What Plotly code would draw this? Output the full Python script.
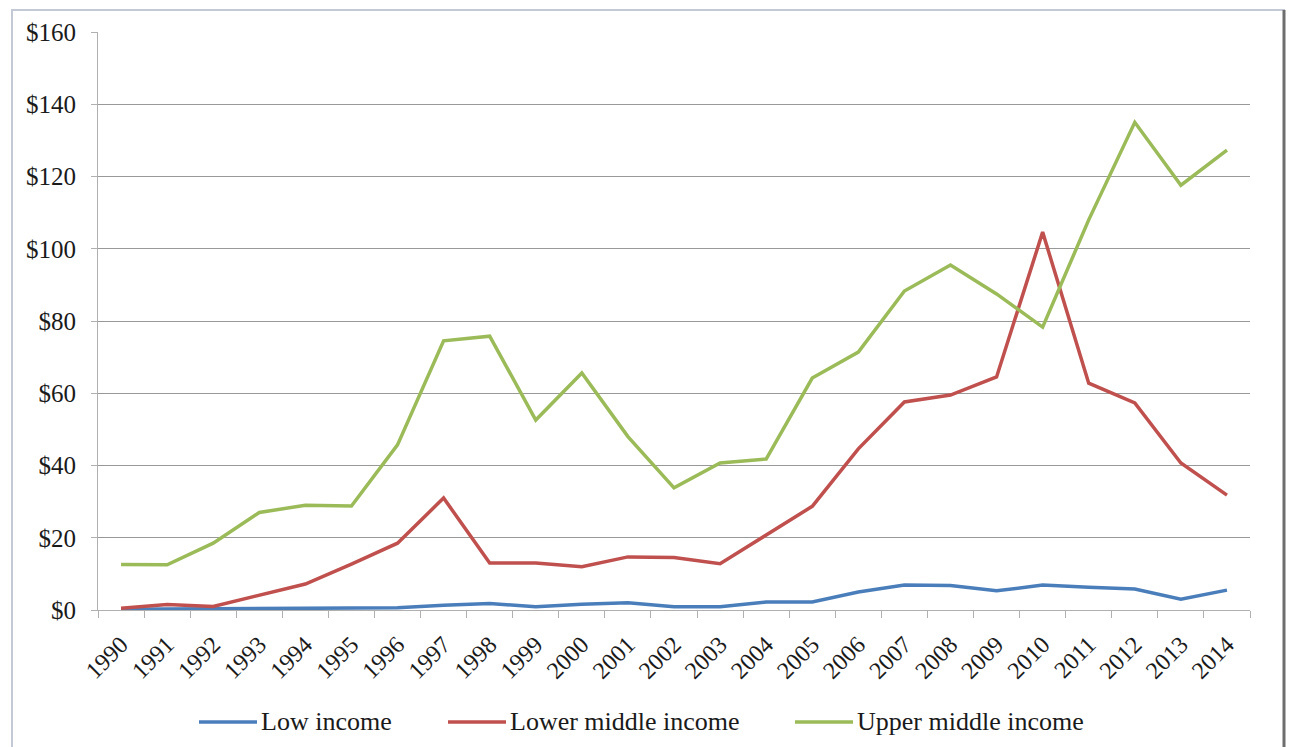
import plotly.graph_objects as go

years = [str(y) for y in range(1990, 2015)]

low_income = [0.2, 0.3, 0.3, 0.4, 0.5, 0.5, 0.6, 1.3, 1.8, 0.9, 1.6, 2.0, 0.9, 0.9,
              2.2, 2.2, 5.0, 6.9, 6.8, 5.3, 6.9, 6.3, 5.8, 3.0, 5.5]
lower_middle = [0.5, 1.5, 1.0, 4.0, 7.2, 12.7, 18.5, 31.0, 13.0, 13.0, 12.0, 14.7,
                14.5, 12.8, 20.8, 28.7, 44.6, 57.6, 59.5, 64.5, 104.6, 62.8, 57.3,
                40.7, 31.8]
upper_middle = [12.6, 12.5, 18.5, 27.0, 29.0, 28.8, 45.7, 74.5, 75.8, 52.6, 65.6,
                48.0, 33.8, 40.7, 41.8, 64.2, 71.4, 88.3, 95.5, 87.5, 78.3, 108.0,
                135.0, 117.6, 127.3]

series = [
    ("Low income", low_income, "#4a7ebb"),
    ("Lower middle income", lower_middle, "#c0504d"),
    ("Upper middle income", upper_middle, "#9bbb59"),
]

y_ticks = list(range(0, 161, 20))

FONT = "Liberation Serif"

fig = go.Figure()
for name, vals, color in series:
    fig.add_trace(go.Scatter(
        x=years, y=vals, name=name, mode="lines",
        line=dict(color=color, width=3.5), showlegend=False,
    ))

W, H = 1291, 747
L, R, T, B = 98, 41, 32, 137
pw, ph = W - L - R, H - T - B

def px_x(x):
    return (x - L) / pw

def px_y(y):
    return (H - B - y) / ph

# legend drawn as line samples + serif labels along the bottom
legend_left = [199, 448, 795]
legend_len = 58
legend_y = 722
shapes = [
    # outer chart frame
    dict(type="rect", xref="paper", yref="paper",
         x0=px_x(12), x1=px_x(1284), y0=px_y(760), y1=px_y(10),
         line=dict(color="#c3cad6", width=2), layer="below"),
    dict(type="line", xref="paper", yref="paper",
         x0=px_x(1284), x1=px_x(1284), y0=px_y(760), y1=px_y(10),
         line=dict(color="#6e6e6e", width=3)),
]
annotations = []
for (name, _, color), x0 in zip(series, legend_left):
    shapes.append(dict(type="line", xref="paper", yref="paper",
                       x0=px_x(x0), x1=px_x(x0 + legend_len),
                       y0=px_y(legend_y), y1=px_y(legend_y),
                       line=dict(color=color, width=3.5)))
    annotations.append(dict(text=name, xref="paper", yref="paper",
                            x=px_x(x0 + legend_len + 2), y=px_y(legend_y - 1),
                            xanchor="left", yanchor="middle", showarrow=False,
                            font=dict(family=FONT, size=26, color="#1a1a1a")))

fig.update_layout(
    width=W, height=H,
    margin=dict(l=L, r=R, t=T, b=B),
    paper_bgcolor="white",
    plot_bgcolor="white",
    font=dict(family=FONT, size=24, color="#1a1a1a"),
    showlegend=False,
    xaxis=dict(
        type="category",
        range=[-0.5, len(years) - 0.5],
        tickson="boundaries",
        ticks="outside", ticklen=7, tickcolor="#b0b0b0", tickwidth=1,
        showline=True, linecolor="#b0b0b0", linewidth=1,
        showgrid=False, tickangle=-45,
        ticklabelstandoff=10,
        tickfont=dict(family=FONT, size=24, color="#1a1a1a"),
    ),
    yaxis=dict(
        range=[0, 160],
        tickvals=y_ticks,
        ticktext=[f"${v}" for v in y_ticks],
        ticks="outside", ticklen=6, tickcolor="#b0b0b0", tickwidth=1,
        showline=True, linecolor="#b0b0b0", linewidth=1,
        showgrid=True, gridcolor="#999999", gridwidth=1,
        zeroline=False,
        ticklabelstandoff=10,
        tickfont=dict(family=FONT, size=25, color="#1a1a1a"),
    ),
    shapes=shapes,
    annotations=annotations,
)

fig.write_html("out.html")
